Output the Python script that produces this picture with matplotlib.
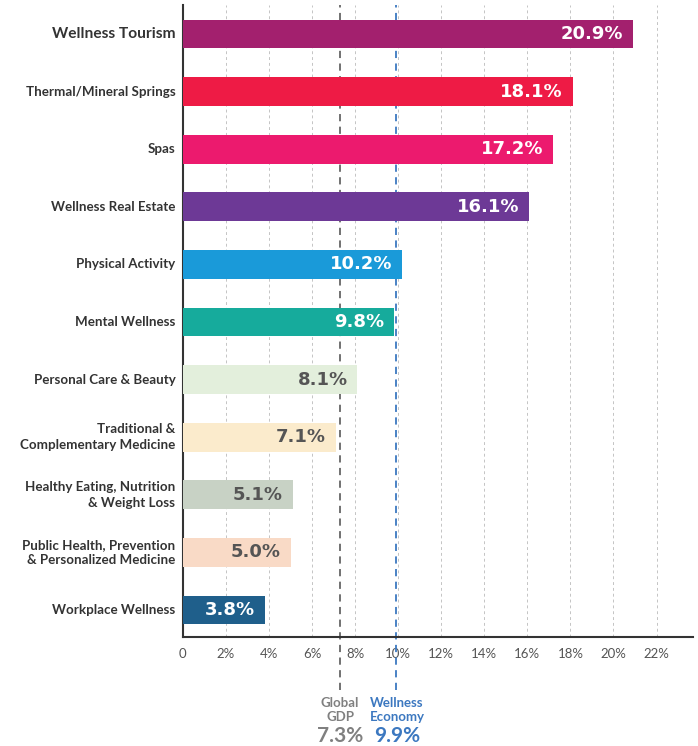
import matplotlib.pyplot as plt
import matplotlib.transforms as mtransforms

categories = [
    "Wellness Tourism",
    "Thermal/Mineral Springs",
    "Spas",
    "Wellness Real Estate",
    "Physical Activity",
    "Mental Wellness",
    "Personal Care & Beauty",
    "Traditional &\nComplementary Medicine",
    "Healthy Eating, Nutrition\n& Weight Loss",
    "Public Health, Prevention\n& Personalized Medicine",
    "Workplace Wellness",
]
growth = [20.9, 18.1, 17.2, 16.1, 10.2, 9.8, 8.1, 7.1, 5.1, 5.0, 3.8]
bar_colors = ["#A3206E", "#EE1B45", "#EC1A6E", "#6D3996", "#1A9AD9", "#16AB9C",
              "#E3EFDC", "#FBEBCC", "#C8D2C5", "#F9DAC6", "#1F5F8B"]
label_colors = ["white"] * 6 + ["#555555"] * 4 + ["white"]

tick_values = [0, 2, 4, 6, 8, 10, 12, 14, 16, 18, 20, 22]
tick_labels = ["0"] + [f"{v}%" for v in tick_values[1:]]

gdp_growth = 7.3
economy_growth = 9.9

fig = plt.figure(figsize=(6.98, 7.46), dpi=100)
ax = fig.add_axes([0.262, 0.146, 0.731, 0.847])

ypos = list(range(len(categories)))
ax.barh(ypos, growth, height=0.5, color=bar_colors, zorder=3)

for y, v, c in zip(ypos, growth, label_colors):
    ax.text(v - 0.45, y, f"{v}%", ha="right", va="center", color=c,
            fontsize=13, fontweight="bold", family="DejaVu Sans", zorder=4)

ax.set_xlim(0, 23.7)
ax.set_ylim(10.47, -0.5)
ax.set_yticks(ypos)
ax.set_yticklabels([])
for y, cat in zip(ypos, categories):
    size = 11.2 if y == 0 else 9.6
    ax.text(-0.35, y, cat, ha="right", va="center", fontsize=size,
            fontweight="bold", family="Lato", color="#333333",
            transform=ax.transData, linespacing=1.35)
ax.tick_params(axis="y", length=0)

ax.set_xticks(tick_values)
ax.set_xticklabels(tick_labels, fontsize=9.5, color="#555555", family="Lato")
ax.tick_params(axis="x", length=0, pad=8)

ax.grid(axis="x", color="#C4C4C4", linestyle=(0, (3, 3)), linewidth=0.7, zorder=0)
for s in ["top", "right"]:
    ax.spines[s].set_visible(False)
for s in ["left", "bottom"]:
    ax.spines[s].set_color("#333333")
    ax.spines[s].set_linewidth(1.5)

# reference lines, running below the axis
ax.axvline(gdp_growth, ymin=-0.084, ymax=1, color="#666666", linestyle=(0, (4, 3)),
           linewidth=1.3, clip_on=False, zorder=2)
ax.axvline(economy_growth, ymin=-0.084, ymax=1, color="#3C78C0", linestyle=(0, (4, 3)),
           linewidth=1.3, clip_on=False, zorder=2)

trans = mtransforms.blended_transform_factory(ax.transData, ax.transAxes)
ax.text(gdp_growth, -0.095, "Global\nGDP", transform=trans, ha="center", va="top",
        fontsize=9.5, color="#808080", family="Lato", fontweight="bold", linespacing=1.2)
ax.text(gdp_growth, -0.14, f"{gdp_growth}%", transform=trans, ha="center", va="top",
        fontsize=15, color="#808080", family="Lato", fontweight="bold")
ax.text(economy_growth + 0.05, -0.095, "Wellness\nEconomy", transform=trans, ha="center",
        va="top", fontsize=9.5, color="#3C78C0", family="Lato", fontweight="bold", linespacing=1.2)
ax.text(economy_growth + 0.05, -0.14, f"{economy_growth}%", transform=trans, ha="center",
        va="top", fontsize=15, color="#3C78C0", family="Lato", fontweight="bold")

fig.savefig("out.png", dpi=100)
